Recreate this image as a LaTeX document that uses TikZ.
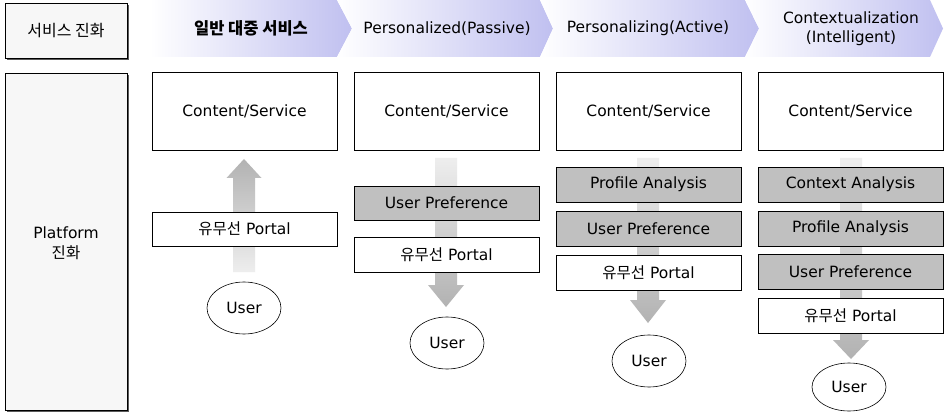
\documentclass[tikz,border=0pt]{standalone}
\usepackage{fontspec}
\setmainfont{DejaVu Sans}
\newfontfamily\kr{Noto Sans CJK KR}
\usetikzlibrary{shapes.geometric}
\definecolor{lav}{RGB}{192,192,240}
\definecolor{boxgray}{RGB}{192,192,192}
\definecolor{sidefill}{RGB}{247,247,247}
\definecolor{shadowgray}{RGB}{90,90,90}
\definecolor{arrdark}{RGB}{178,178,178}
\definecolor{arrlight}{RGB}{238,238,238}
\tikzset{
  every node/.style={inner sep=0pt, font=\fontsize{15.5}{18}\selectfont},
  csbox/.style={draw=black, line width=0.8pt, fill=white, minimum width=185pt, minimum height=78pt},
  wbox/.style={draw=black, line width=0.8pt, fill=white, minimum width=185pt, minimum height=35pt},
  gbox/.style={draw=black, line width=0.8pt, fill=boxgray, minimum width=185pt, minimum height=35pt},
  usernode/.style={draw=black, line width=0.6pt, fill=white, ellipse, minimum width=74pt, minimum height=52pt},
  chev/.style={left color=white, right color=lav, draw=none},
  hdr/.style={font=\fontsize{15.5}{19}\selectfont, align=center},
  downarr/.style={top color=arrlight, bottom color=arrdark, draw=none},
  uparr/.style={top color=arrdark, bottom color=arrlight, draw=none},
  krtext/.style={font=\fontsize{16}{18}\selectfont\kr},
}
\begin{document}
\begin{tikzpicture}[x=1pt,y=-1pt]
\useasboundingbox (0,0) rectangle (944,414);
\fill[white] (0,0) rectangle (944,414);

% header chevrons
\path[chev] (150,0) -- (337,0) -- (352,28.5) -- (337,57) -- (150,57) -- cycle;
\path[chev] (337,0) -- (540,0) -- (553,28.5) -- (540,57) -- (337,57) -- (352,28.5) -- cycle;
\path[chev] (540,0) -- (745,0) -- (759,28.5) -- (745,57) -- (540,57) -- (553,28.5) -- cycle;
\path[chev] (745,0) -- (930,0) -- (943,28.5) -- (930,57) -- (745,57) -- (759,28.5) -- cycle;

% left side boxes with shadow
\fill[shadowgray] (7,5) rectangle (129,60);
\filldraw[draw=black, line width=0.6pt, fill=sidefill] (5,3) rectangle (127,58);
\node[krtext] (evo) at (66,30.5) {서비스 진화};
\fill[shadowgray] (7,75) rectangle (129,412);
\filldraw[draw=black, line width=0.6pt, fill=sidefill] (5,73) rectangle (127,410);
\node[align=center, font=\fontsize{15.5}{20}\selectfont] (plat) at (66,243) {Platform\\{\kr 진화}};

% header texts
\node[hdr] (h1) at (251,28.5) {\fontsize{16.5}{19}\selectfont\kr\bfseries 일반 대중 서비스};
\node[hdr] (h2) at (447,28.5) {Personalized(Passive)};
\node[hdr] (h3) at (648,28.5) {Personalizing(Active)};
\node[hdr] (h4) at (851,29) {Contextualization\\(Intelligent)};

% arrows (behind boxes)
\path[uparr] (233,272) -- (233,178) -- (226.5,178) -- (244,159) -- (261.5,178) -- (255,178) -- (255,272) -- cycle;
\path[downarr] (435,158) -- (457,158) -- (457,285) -- (464,285) -- (446,307) -- (428,285) -- (435,285) -- cycle;
\path[downarr] (637,158) -- (659,158) -- (659,300) -- (666,300) -- (648,323) -- (630,300) -- (637,300) -- cycle;
\path[downarr] (840,158) -- (862,158) -- (862,340) -- (869,340) -- (851,359) -- (833,340) -- (840,340) -- cycle;

% column 1
\node[csbox] (cs1) at (244.5,111) {Content/Service};
\node[wbox, minimum height=34pt] (po1) at (244.5,229) {{\kr 유무선} Portal};
\node[usernode] (u1) at (244,308) {User};

% column 2
\node[csbox] (cs2) at (446.5,111) {Content/Service};
\node[gbox, minimum height=34pt] (up2) at (446.5,203) {User Preference};
\node[wbox] (po2) at (446.5,254.5) {{\kr 유무선} Portal};
\node[usernode] (u2) at (447,343) {User};

% column 3
\node[csbox] (cs3) at (648.5,111) {Content/Service};
\node[gbox] (pa3) at (648.5,184.5) {Profile Analysis};
\node[gbox] (up3) at (648.5,228.5) {User Preference};
\node[wbox] (po3) at (648.5,272.5) {{\kr 유무선} Portal};
\node[usernode] (u3) at (649,361) {User};

% column 4
\node[csbox] (cs4) at (850.5,111) {Content/Service};
\node[gbox] (ca4) at (850.5,184.5) {Context Analysis};
\node[gbox] (pa4) at (850.5,228.5) {Profile Analysis};
\node[gbox] (up4) at (850.5,272) {User Preference};
\node[wbox] (po4) at (850.5,315.5) {{\kr 유무선} Portal};
\node[usernode, minimum height=48pt] (u4) at (849,387) {User};
\end{tikzpicture}
\end{document}
